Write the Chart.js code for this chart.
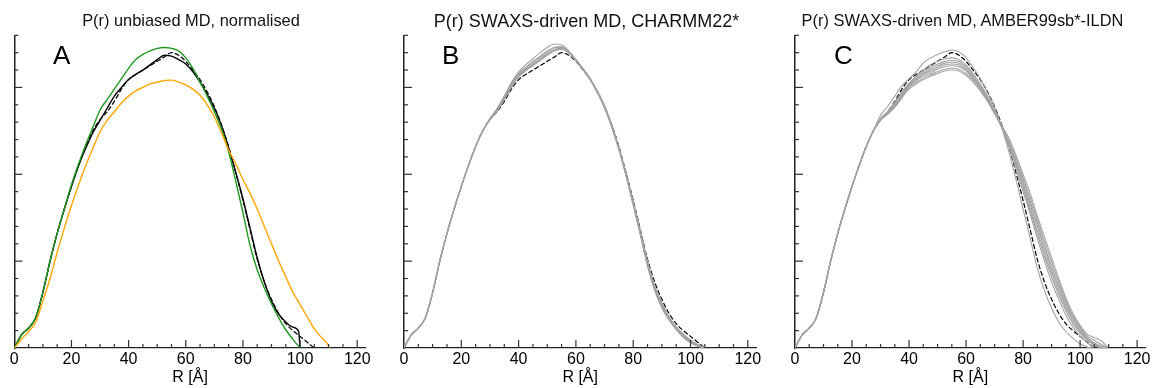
<!DOCTYPE html>
<html><head><meta charset="utf-8">
<script src="https://cdn.jsdelivr.net/npm/chart.js@4.4.1/dist/chart.umd.min.js"></script>
<style>
html,body{margin:0;padding:0;background:#fff;}
#wrap{position:relative;width:1153px;height:388px;overflow:hidden;font-family:"Liberation Sans",Arial,sans-serif;}
canvas{position:absolute;top:0;}
.title{position:absolute;width:500px;text-align:center;color:#111;white-space:nowrap;}
.letter{position:absolute;top:41.6px;font-size:26px;line-height:26px;color:#000;}
</style></head><body>
<div id="wrap">
  <canvas id="cA" width="384" height="388" style="left:0px"></canvas>
  <canvas id="cB" width="384" height="388" style="left:384px"></canvas>
  <canvas id="cC" width="385" height="388" style="left:768px"></canvas>
  <div class="title" style="left:-59px;top:12.1px;font-size:16.4px;line-height:16.4px">P(r) unbiased MD, normalised</div>
  <div class="title" style="left:336.5px;top:11.5px;font-size:18px;line-height:18px">P(r) SWAXS-driven MD, CHARMM22*</div>
  <div class="title" style="left:712.5px;top:12.1px;font-size:16.4px;line-height:16.4px">P(r) SWAXS-driven MD, AMBER99sb*-ILDN</div>
  <div class="letter" style="left:53px">A</div>
  <div class="letter" style="left:442px">B</div>
  <div class="letter" style="left:834px">C</div>
</div>
<script>
// ---- data (R in Å, P(r) in arbitrary units) ----
const rGrid = [0,2.5,5,7.5,10,12.5,15,17.5,20,22.5,25,27.5,30,32.5,35,37.5,40,42.5,45,47.5,50,52.5,55,57.5,60,62.5,65,67.5,70,72.5,75,77.5,80,82.5,85,87.5,90,92.5,95,97.5,100,102.5,105,107.5,110];
const xTickLabels = [0,20,40,60,80,100,120];

// experimental (black dashed), shown in all panels
const pExp = [0,0.75,1.15,1.75,3.2,5.0,6.6,8.0,9.3,10.5,11.6,12.5,13.15,13.6,14.2,14.9,15.45,15.75,16.0,16.25,16.5,16.75,17.0,16.85,16.5,16.0,15.45,14.75,13.9,12.85,11.6,10.1,8.5,6.8,5.1,3.8,2.8,2.0,1.4,1.0,0.67,0.33,0];

// panel A
const pA_green = [0,0.75,1.15,1.75,3.2,5.0,6.6,8.0,9.4,10.6,11.7,12.7,13.7,14.3,14.9,15.5,16.1,16.6,16.9,17.1,17.25,17.3,17.25,17.1,16.7,16.1,15.3,14.5,13.6,12.6,11.3,9.6,7.8,5.9,4.5,3.45,2.55,1.75,1.05,0.5,0];
const rA_black = [0,2.5,5,7.5,10,12.5,15,17.5,20,22.5,25,27.5,30,32.5,35,37.5,40,42.5,45,47.5,50,52.5,55,57.5,60,62.5,65,67.5,70,72.5,75,77.5,80,82.5,85,87.5,90,92.5,95,97.5,99.5,100];
const pA_black = [0,0.75,1.15,1.75,3.2,5.0,6.6,8.0,9.3,10.5,11.5,12.4,13.1,13.8,14.5,15.0,15.45,15.75,16.0,16.3,16.6,16.85,16.8,16.6,16.35,15.9,15.3,14.6,13.8,12.8,11.5,10.1,8.6,6.9,5.2,3.8,2.7,1.95,1.5,1.2,0.95,0];
const rA_orange = [0,2.5,5,7.5,10,12.5,15,17.5,20,22.5,25,27.5,30,32.5,35,37.5,40,42.5,45,47.5,50,52.5,55,57.5,60,62.5,65,67.5,70,72.5,75,77.5,80,82.5,85,87.5,90,92.5,95,97.5,100,102.5,105,107.5,109.5,110.3];
const pA_orange = [0,0.5,0.95,1.5,2.7,4.0,5.5,6.9,8.2,9.4,10.5,11.5,12.45,13.1,13.6,14.1,14.5,14.8,15.0,15.2,15.3,15.4,15.42,15.3,15.15,14.9,14.55,14.0,13.3,12.4,11.4,10.6,9.7,8.9,8.0,7.0,6.0,5.0,4.1,3.2,2.5,1.8,1.1,0.6,0.25,0];

// panel B (CHARMM22*, SWAXS-driven replicas)
const pB_1 = [0,0.75,1.15,1.75,3.2,5.0,6.6,8.0,9.3,10.5,11.6,12.5,13.2,13.8,14.5,15.3,15.9,16.3,16.65,17.0,17.3,17.5,17.45,17.1,16.6,16.05,15.45,14.7,13.8,12.7,11.4,9.9,8.2,6.5,4.7,3.3,2.3,1.6,1.05,0.6,0.3,0.1,0];
const pB_2 = [0,0.75,1.15,1.75,3.2,5.0,6.6,8.0,9.3,10.5,11.6,12.5,13.2,13.75,14.4,15.2,15.8,16.15,16.5,16.8,17.1,17.3,17.3,17.0,16.55,16.0,15.45,14.7,13.85,12.75,11.45,9.95,8.3,6.6,4.8,3.4,2.4,1.7,1.1,0.7,0.35,0.12,0];
const pB_3 = [0,0.75,1.15,1.75,3.2,5.0,6.6,8.0,9.3,10.5,11.6,12.5,13.2,13.7,14.35,15.1,15.7,16.05,16.35,16.65,16.95,17.2,17.25,17.0,16.55,16.05,15.5,14.75,13.9,12.8,11.5,10.0,8.35,6.65,4.9,3.5,2.5,1.75,1.15,0.75,0.4,0.15,0];
const pB_4 = [0,0.75,1.15,1.75,3.2,5.0,6.6,8.0,9.3,10.5,11.6,12.5,13.15,13.65,14.3,15.0,15.6,15.95,16.25,16.55,16.85,17.1,17.2,17.0,16.55,16.05,15.5,14.8,13.9,12.8,11.5,10.0,8.4,6.7,5.0,3.6,2.6,1.8,1.2,0.8,0.45,0.18,0];
const pB_5 = [0,0.75,1.15,1.75,3.2,5.0,6.6,8.0,9.3,10.5,11.6,12.5,13.2,13.75,14.45,15.2,15.75,16.1,16.45,16.75,17.05,17.3,17.35,17.05,16.6,16.05,15.45,14.7,13.85,12.75,11.45,9.95,8.3,6.55,4.75,3.35,2.35,1.65,1.1,0.65,0.32,0.12,0];
const pB_6 = [0,0.75,1.15,1.75,3.2,5.0,6.6,8.0,9.3,10.5,11.6,12.5,13.15,13.65,14.3,15.05,15.65,16.0,16.3,16.6,16.9,17.15,17.25,17.0,16.6,16.1,15.5,14.8,13.95,12.85,11.55,10.05,8.4,6.7,4.95,3.55,2.55,1.8,1.2,0.8,0.45,0.2,0];

// panel C (AMBER99sb*-ILDN, SWAXS-driven replicas)
const pC_1 = [0,0.75,1.15,1.75,3.2,5.0,6.6,8.0,9.3,10.5,11.6,12.5,13.1,13.45,13.85,14.4,14.9,15.2,15.45,15.65,15.8,15.95,16.0,15.95,15.7,15.3,14.8,14.2,13.5,12.8,12.1,11.1,10.0,8.9,7.6,6.4,5.2,4.0,2.9,2.0,1.3,0.8,0.6,0.4,0];
const pC_2 = [0,0.75,1.15,1.75,3.2,5.0,6.6,8.0,9.3,10.5,11.6,12.5,13.1,13.5,13.9,14.45,15.0,15.3,15.55,15.75,15.9,16.05,16.1,16.05,15.8,15.4,14.9,14.25,13.5,12.75,11.95,10.95,9.8,8.65,7.4,6.15,4.95,3.8,2.75,1.85,1.2,0.7,0.45,0.2,0];
const pC_3 = [0,0.75,1.15,1.75,3.2,5.0,6.6,8.0,9.3,10.5,11.6,12.5,13.15,13.5,13.95,14.5,15.05,15.4,15.65,15.85,16.05,16.2,16.25,16.2,15.95,15.5,15.0,14.3,13.55,12.7,11.85,10.8,9.65,8.45,7.2,5.9,4.7,3.6,2.6,1.75,1.1,0.6,0.3,0.1,0];
const pC_4 = [0,0.75,1.15,1.75,3.2,5.0,6.6,8.0,9.3,10.5,11.6,12.5,13.15,13.55,14.0,14.55,15.1,15.45,15.75,15.95,16.15,16.3,16.35,16.3,16.0,15.55,15.0,14.35,13.55,12.7,11.75,10.7,9.5,8.25,7.0,5.7,4.5,3.45,2.45,1.65,1.0,0.55,0.25,0.05,0];
const pC_5 = [0,0.75,1.15,1.75,3.2,5.0,6.6,8.0,9.3,10.5,11.6,12.5,13.15,13.55,14.05,14.65,15.15,15.5,15.8,16.05,16.25,16.4,16.45,16.4,16.1,15.6,15.05,14.4,13.6,12.7,11.7,10.6,9.35,8.05,6.75,5.45,4.3,3.25,2.3,1.5,0.9,0.5,0.2,0];
const pC_6 = [0,0.75,1.15,1.75,3.2,5.0,6.6,8.0,9.3,10.5,11.6,12.5,13.2,13.6,14.1,14.7,15.2,15.6,15.9,16.15,16.35,16.5,16.55,16.5,16.2,15.7,15.1,14.45,13.65,12.75,11.65,10.5,9.2,7.9,6.55,5.25,4.1,3.05,2.15,1.4,0.85,0.45,0.15,0];
const pC_7 = [0,0.75,1.15,1.75,3.2,5.0,6.6,8.0,9.3,10.5,11.6,12.5,13.2,13.6,14.15,14.75,15.25,15.65,16.0,16.3,16.5,16.65,16.7,16.6,16.3,15.8,15.2,14.5,13.7,12.8,11.6,10.3,9.0,7.7,6.3,5.0,3.8,2.8,1.9,1.2,0.7,0.3,0];
const pC_8 = [0,0.75,1.15,1.75,3.2,5.0,6.6,8.0,9.3,10.5,11.6,12.5,13.4,13.9,14.5,15.1,15.5,15.9,16.4,16.7,16.9,17.05,17.15,17.05,16.7,16.15,15.5,14.7,13.85,12.7,11.3,9.7,8.0,6.3,4.6,3.3,2.3,1.5,0.95,0.55,0.25,0.05,0];

// ---- helpers ----
const pts = (r, p) => p.map((y, i) => ({x: r[i], y: y}));
const GRAY = '#a3a3a3';
function line(r, p, color, width, dash) {
  return {data: pts(r, p), borderColor: color, borderWidth: width, borderDash: dash || [],
          pointRadius: 0, fill: false, cubicInterpolationMode: 'monotone'};
}

const inwardTicks = {
  id: 'inwardTicks',
  afterDraw(chart) {
    const ctx = chart.ctx, xs = chart.scales.x, ys = chart.scales.y, a = chart.chartArea;
    ctx.save();
    ctx.strokeStyle = '#333';
    ctx.lineWidth = 1.2;
    xs.ticks.forEach(t => {
      const v = t.value;
      if (v > 120 || v <= 0) return;
      const px = xs.getPixelForValue(v);
      const len = v % 20 === 0 ? 8 : 4;
      ctx.beginPath(); ctx.moveTo(px, a.bottom); ctx.lineTo(px, a.bottom - len); ctx.stroke();
    });
    ys.ticks.forEach(t => {
      const v = t.value;
      if (v <= 0) return;
      const py = ys.getPixelForValue(v);
      const len = v % 5 === 0 ? 8 : 4;
      ctx.beginPath(); ctx.moveTo(a.left, py); ctx.lineTo(a.left + len, py); ctx.stroke();
    });
    ctx.restore();
  }
};

function makeChart(id, datasets, padL, padR) {
  return new Chart(document.getElementById(id), {
    type: 'line',
    data: {datasets: datasets},
    plugins: [inwardTicks],
    options: {
      responsive: false, animation: false, devicePixelRatio: 1,
      layout: {padding: {left: padL, right: padR, top: 35.3, bottom: 0}},
      plugins: {legend: {display: false}, title: {display: false}, tooltip: {enabled: false}},
      scales: {
        x: {
          type: 'linear', min: 0, max: 123,
          grid: {display: false, drawTicks: false},
          border: {display: true, color: '#222', width: 1.3},
          ticks: {stepSize: 5, autoSkip: false, maxRotation: 0, includeBounds: false, padding: 2.4,
                  color: '#000', font: {family: '"Liberation Sans", Arial, sans-serif', size: 16, lineHeight: 1.1},
                  callback: v => xTickLabels.includes(v) ? String(v) : ''},
          title: {display: true, text: 'R [Å]', color: '#000', padding: {top: 0, bottom: 0.7},
                  font: {family: '"Liberation Sans", Arial, sans-serif', size: 16, lineHeight: 1.2}},
          afterFit: s => { s.height = 40; }
        },
        y: {
          type: 'linear', min: 0, max: 18,
          grid: {display: false, drawTicks: false},
          border: {display: true, color: '#222', width: 1.5},
          ticks: {display: false, stepSize: 1}
        }
      }
    }
  });
}

const dsA = [
  line(rA_orange, pA_orange, '#ffa500', 1.4),
  line(rGrid, pA_green, '#229922', 1.4),
  line(rA_black, pA_black, '#000000', 1.4),
  line(rGrid, pExp, '#000000', 1.2, [5, 2])
];
const dsB = [pB_1, pB_2, pB_3, pB_4, pB_5, pB_6].map(p => line(rGrid, p, GRAY, 1.1))
  .concat([line(rGrid, pExp, '#000000', 1.2, [5, 2])]);
const dsC = [pC_1, pC_2, pC_3, pC_4, pC_5, pC_6, pC_7, pC_8].map(p => line(rGrid, p, GRAY, 1.1))
  .concat([line(rGrid, pExp, '#000000', 1.2, [5, 2])]);

makeChart('cA', dsA, 14.3, 18.2);
makeChart('cB', dsB, 20, 11.6);
makeChart('cC', dsC, 27, 5.6);
</script>
</body></html>
